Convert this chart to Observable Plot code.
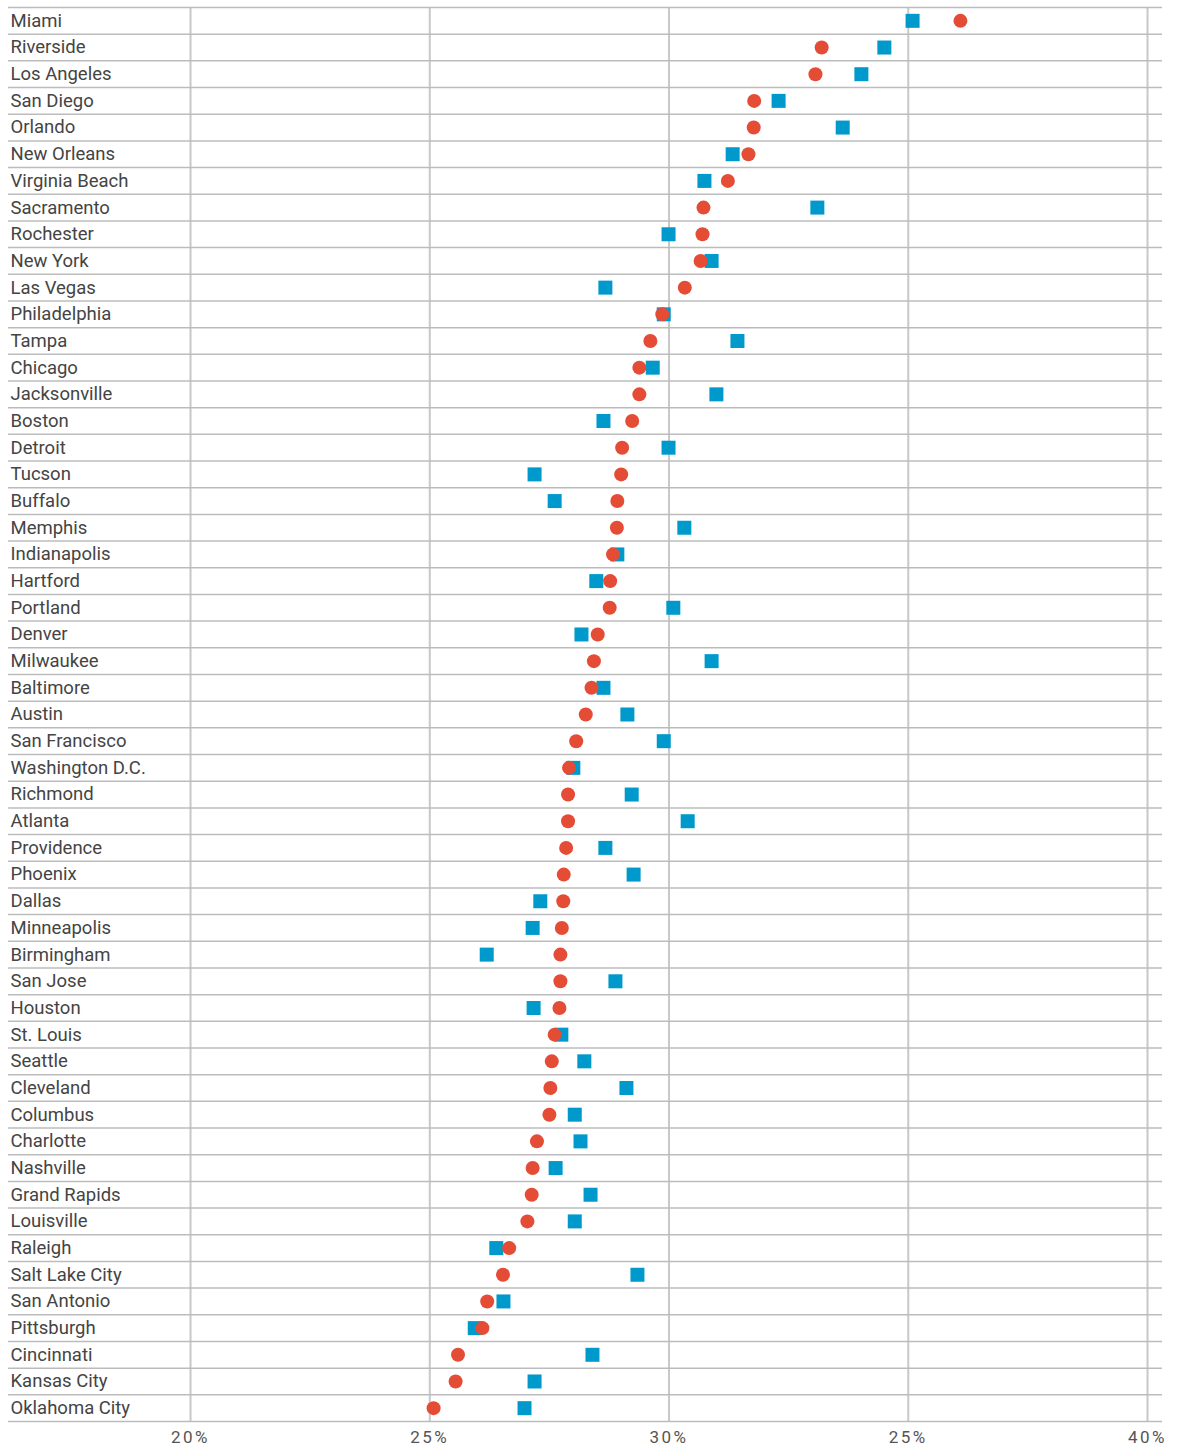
<!DOCTYPE html>
<html>
<head>
<meta charset="utf-8">
<script src="https://cdn.jsdelivr.net/npm/d3@7"></script>
<script src="https://cdn.jsdelivr.net/npm/@observablehq/plot@0.6"></script>
<style>
  html, body { margin: 0; padding: 0; background: #fff; }
  #chart svg { display: block; }
  .xticks text { letter-spacing: 2.5px; }
</style>
</head>
<body>
<div id="chart"></div>
<script>
const cities = ["Miami","Riverside","Los Angeles","San Diego","Orlando","New Orleans","Virginia Beach","Sacramento","Rochester","New York","Las Vegas","Philadelphia","Tampa","Chicago","Jacksonville","Boston","Detroit","Tucson","Buffalo","Memphis","Indianapolis","Hartford","Portland","Denver","Milwaukee","Baltimore","Austin","San Francisco","Washington D.C.","Richmond","Atlanta","Providence","Phoenix","Dallas","Minneapolis","Birmingham","San Jose","Houston","St. Louis","Seattle","Cleveland","Columbus","Charlotte","Nashville","Grand Rapids","Louisville","Raleigh","Salt Lake City","San Antonio","Pittsburgh","Cincinnati","Kansas City","Oklahoma City"];

// red circles
const circleValues = [36.09,33.19,33.06,31.78,31.77,31.66,31.23,30.72,30.70,30.66,30.33,29.86,29.61,29.38,29.38,29.23,29.02,29.00,28.92,28.91,28.83,28.77,28.76,28.51,28.43,28.38,28.26,28.06,27.91,27.89,27.89,27.85,27.80,27.79,27.76,27.73,27.73,27.71,27.61,27.55,27.52,27.50,27.24,27.15,27.13,27.04,26.66,26.53,26.20,26.10,25.59,25.54,25.08];

// blue squares
const squareValues = [35.09,34.50,34.02,32.29,33.63,31.33,30.74,33.10,29.99,30.89,28.67,29.89,31.43,29.66,30.99,28.63,29.99,27.19,27.61,30.32,28.92,28.48,30.09,28.17,30.89,28.63,29.13,29.89,28.00,29.22,30.39,28.67,29.26,27.31,27.15,26.19,28.88,27.17,27.75,28.23,29.11,28.03,28.15,27.63,28.36,28.03,26.39,29.34,26.54,25.94,28.40,27.19,26.98];

const xTickValues = [20, 25, 30, 35, 40];
const xTickLabels = ["20%", "25%", "30%", "25%", "40%"];

const circles = cities.map((c, i) => ({city: c, value: circleValues[i]}));
const squares = cities.map((c, i) => ({city: c, value: squareValues[i]}));

const W = 1186, H = 1448, mT = 7, mB = 27;
const bw = (H - mT - mB) / cities.length;
const font = "Roboto, Lato, 'Noto Sans', sans-serif";

const chart = Plot.plot({
  width: W,
  height: H,
  marginTop: mT,
  marginBottom: mB,
  marginLeft: 8,
  marginRight: 24,
  style: {fontFamily: font, background: "#fff", overflow: "visible"},
  x: {domain: [16.196, 40.313], axis: null},
  y: {type: "band", domain: cities, padding: 0, axis: null},
  marks: [
    Plot.ruleX(xTickValues, {stroke: "#c8c8c8", strokeWidth: 2}),
    Plot.ruleY(cities, {y: d => d, dy: -bw / 2, stroke: "#bcbcbc", strokeWidth: 1.5}),
    Plot.ruleY(cities.slice(-1), {y: d => d, dy: bw / 2, stroke: "#bcbcbc", strokeWidth: 1.5}),
    Plot.text(xTickValues, {
      x: d => d,
      text: d => xTickLabels[xTickValues.indexOf(d)],
      frameAnchor: "bottom",
      lineAnchor: "middle",
      dy: 16,
      fontSize: 17,
      fill: "#555",
      fontFamily: font,
      className: "xticks"
    }),
    Plot.text(cities, {
      y: d => d,
      text: d => d,
      frameAnchor: "left",
      textAnchor: "start",
      dx: 2,
      fontSize: 18.5,
      fill: "#444",
      fontFamily: font
    }),
    Plot.dot(squares, {x: "value", y: "city", symbol: "square", r: 7.9, fill: "#0099cc", stroke: null}),
    Plot.dot(circles, {x: "value", y: "city", symbol: "circle", r: 7, fill: "#e44c36", stroke: null})
  ]
});

document.getElementById("chart").appendChild(chart);
</script>
</body>
</html>
